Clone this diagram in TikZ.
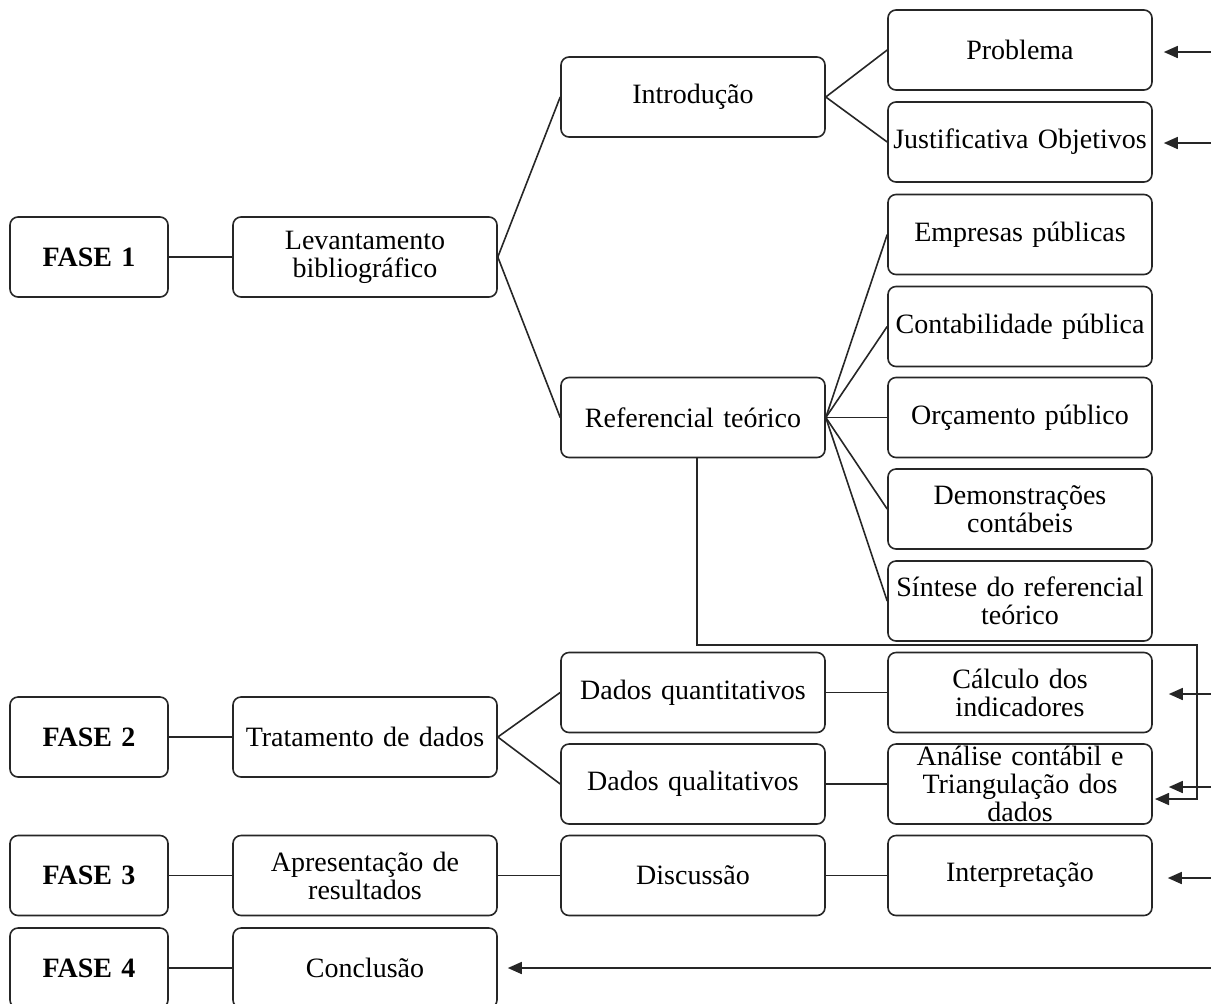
\documentclass[tikz,border=0pt]{standalone}
\usepackage{fontspec}
\setmainfont{Liberation Serif}
\usetikzlibrary{arrows.meta}

\begin{document}
\begin{tikzpicture}[x=0.5pt, y=-0.5pt, line width=0.8pt, draw=black!85,
  >={Triangle[length=7pt, width=6pt]},
  box/.style={draw=black!85, line width=0.8pt, rounded corners=4pt,
    minimum height=40pt, text width=130pt, inner xsep=1pt, inner ysep=0pt,
    align=center, font=\fontsize{14}{14}\selectfont},
  fase/.style={box, text width=77pt, font=\fontsize{14}{14}\selectfont\bfseries}]
\useasboundingbox (0,0) rectangle (1211,1003);

% fases
\node[fase] (f1) at (89,257) {FASE 1};
\node[fase] (f2) at (89,737) {FASE 2};
\node[fase] (f3) at (89,875.5) {FASE 3};
\node[fase] (f4) at (89,968) {FASE 4};

% fase 1
\node[box] (lev) at (365,257) {Levantamento\\bibliográfico};
\node[box] (intro) at (693,97) {Introdução};
\node[box] (ref) at (693,417.5) {Referencial teórico};
\node[box] (prob) at (1020,50) {Problema};
\node[box] (just) at (1020,142) {Justificativa Objetivos};
\node[box] (empr) at (1020,234.5) {Empresas públicas};
\node[box] (cont) at (1020,326.5) {Contabilidade pública};
\node[box] (orc) at (1020,417.5) {Orçamento público};
\node[box] (demo) at (1020,509) {Demonstrações\\contábeis};
\node[box] (sint) at (1020,601) {Síntese do referencial\\teórico};

% fase 2
\node[box] (trat) at (365,737) {Tratamento de dados};
\node[box] (quan) at (693,692.5) {Dados quantitativos};
\node[box] (qual) at (693,784) {Dados qualitativos};
\node[box] (calc) at (1020,692.5) {Cálculo dos\\indicadores};
\node[box] (ana) at (1020,784) {Análise contábil e\\Triangulação dos\\dados};

% fase 3 e 4
\node[box] (apr) at (365,875.5) {Apresentação de\\resultados};
\node[box] (disc) at (693,875.5) {Discussão};
\node[box] (interp) at (1020,875.5) {Interpretação};
\node[box] (conc) at (365,968) {Conclusão};

\draw (f1) -- (lev);
\draw (lev.east) -- (intro.west);
\draw (lev.east) -- (ref.west);
\draw (intro.east) -- (prob.west);
\draw (intro.east) -- (just.west);
\draw (ref.east) -- (empr.west);
\draw (ref.east) -- (cont.west);
\draw (ref.east) -- (orc.west);
\draw (ref.east) -- (demo.west);
\draw (ref.east) -- (sint.west);

\draw (f2) -- (trat);
\draw (trat.east) -- (quan.west);
\draw (trat.east) -- (qual.west);
\draw (quan) -- (calc);
\draw (qual) -- (ana);

\draw (f3) -- (apr);
\draw (apr) -- (disc);
\draw (disc) -- (interp);
\draw (f4) -- (conc);

% entradas pela direita
\coordinate (inProb) at (1211,52);
\coordinate (inJust) at (1211,143);
\coordinate (inCalc) at (1211,694);
\coordinate (inAna) at (1211,787);
\coordinate (inInterp) at (1211,878);
\coordinate (inConc) at (1211,968);
\coordinate (bend) at (1197,645);
\coordinate (anaLow) at (1152,799);

\draw[->, shorten >=5.5pt] (inProb) -- (inProb -| prob.east);
\draw[->, shorten >=5.5pt] (inJust) -- (inJust -| just.east);
\draw[->, shorten >=8pt] (inCalc) -- (inCalc -| calc.east);
\draw[->, shorten >=8pt] (inAna) -- (inAna -| ana.east);
\draw[->, shorten >=7.5pt] (inInterp) -- (inInterp -| interp.east);
\draw[->, shorten >=5pt] (inConc) -- (conc.east);
\draw[->, shorten >=1.5pt] ([xshift=2pt]ref.south) |- (bend) |- (anaLow);
\end{tikzpicture}
\end{document}
